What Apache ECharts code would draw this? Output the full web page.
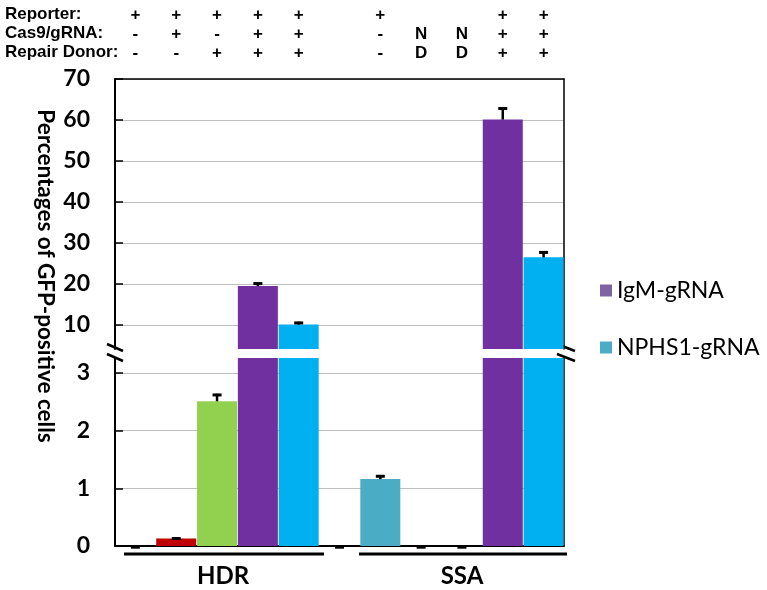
<!DOCTYPE html>
<html><head><meta charset="utf-8">
<script src="https://cdn.jsdelivr.net/npm/echarts@6/dist/echarts.min.js"></script>
<style>html,body{margin:0;padding:0;background:#fff}#c{width:767px;height:590px}</style>
</head><body><div id="c"></div>
<script>
const categories = ['HDR-a','HDR-b','HDR-c','HDR-d','HDR-e','SSA-z','SSA-a','SSA-b','SSA-c','SSA-d','SSA-e'];
const values = [0, 0.13, 2.51, 19.5, 10.1, 0, 1.16, 0, 0, 60.1, 26.5];
const errors = [0, 0.02, 0.13, 0.9, 0.7, 0, 0.07, 0, 0, 3.0, 1.5];
const barColors = ['#c00000','#c00000','#92d050','#7030a0','#00b0f0','#4bacc6','#4bacc6','#4bacc6','#4bacc6','#7030a0','#00b0f0'];
const seriesOf = ['ctrl','ctrl','ctrl','IgM-gRNA','NPHS1-gRNA','ctrl','ctrl','ctrl','ctrl','IgM-gRNA','NPHS1-gRNA'];
const legendNames = ['IgM-gRNA','NPHS1-gRNA'];
const legendColors = ['#8064a2','#4bacc6'];
const headerLabels = ['Reporter:','Cas9/gRNA:','Repair Donor:'];
const reporterRow = ['+','+','+','+','+','','+','','','+','+'];
const cas9Row = ['-','+','-','+','+','','-','N','N','+','+'];
const donorRow = ['-','-','+','+','+','','-','D','D','+','+'];
const headerRows = [reporterRow, cas9Row, donorRow];
const groupNames = ['HDR','SSA'];
const upperTicks = [10,20,30,40,50,60,70];
const lowerTicks = [0,1,2,3];
const upperRange = [4.15, 70];
const lowerRange = [0, 3.26];
const yTitle = 'Percentages of GFP-positive cells';

const chart = echarts.init(document.getElementById('c'));
const calibri = 'Lato, "Open Sans", sans-serif';
const arial = '"Liberation Sans", Arial, sans-serif';

const GL = 115, GW = 449;
const grids = [
  {left: GL, width: GW, top: 79, height: 270},
  {left: GL, width: GW, top: 358, height: 188}
];

function yAx(grid, range, ticks, pos) {
  const left = pos === 'left';
  return {
    type: 'value', gridIndex: grid, position: pos, min: range[0], max: range[1],
    axisLine: {show: true, lineStyle: {color: '#000', width: left ? 2 : 1.5}},
    axisTick: {show: left, inside: true, length: 8, lineStyle: {color: '#000', width: 1.5}, customValues: ticks},
    axisLabel: {show: left, margin: 25, color: '#000', fontFamily: calibri, fontWeight: 'bold', fontSize: 23, customValues: ticks},
    splitLine: {show: left, lineStyle: {color: '#bfbfbf', width: 1}}
  };
}

const xAxes = [
  {type: 'category', gridIndex: 0, data: categories, position: 'top',
   axisLine: {show: true, lineStyle: {color: '#000', width: 1.5}}, axisTick: {show: false}, axisLabel: {show: false}},
  {type: 'category', gridIndex: 1, data: categories, position: 'bottom',
   axisLine: {show: true, lineStyle: {color: '#000', width: 2}}, axisTick: {show: false}, axisLabel: {show: false}}
];
const headerOffsets = [55, 36, 17];
headerRows.forEach((row, r) => {
  xAxes.push({type: 'category', gridIndex: 0, data: categories, position: 'top', offset: headerOffsets[r],
    axisLine: {show: false}, axisTick: {show: false},
    axisLabel: {interval: 0, margin: 0, color: '#000', fontFamily: arial, fontWeight: 'bold', fontSize: 17,
      formatter: (v, i) => row[i]}});
});

const series = [];
['ctrl','IgM-gRNA','NPHS1-gRNA'].forEach(name => {
  [0, 1].forEach(g => {
    const range = g === 0 ? upperRange : lowerRange;
    series.push({
      name: name, type: 'bar', xAxisIndex: g, yAxisIndex: g * 2,
      barGap: '-100%', barCategoryGap: '2%',
      data: values.map((v, i) => (seriesOf[i] === name && (g === 1 || v > range[0]))
        ? {value: v, itemStyle: {color: barColors[i]}} : '-'),
      itemStyle: {color: name === 'IgM-gRNA' ? '#7030a0' : name === 'NPHS1-gRNA' ? '#00b0f0' : '#c00000'}
    });
  });
});

function renderErr(params, api) {
  const x = api.value(0), v = api.value(1), e = api.value(2);
  const base = api.coord([x, v]);
  const top = api.coord([x, v + e]);
  const hw = 4.5;
  return {type: 'group', children: [
    {type: 'line', shape: {x1: base[0], y1: base[1], x2: top[0], y2: top[1]}, style: {stroke: '#000', lineWidth: 2.5}},
    {type: 'line', shape: {x1: top[0] - hw, y1: top[1] + 1.2, x2: top[0] + hw, y2: top[1] + 1.2}, style: {stroke: '#000', lineWidth: 3}}
  ]};
}
[0, 1].forEach(g => {
  const data = [];
  values.forEach((v, i) => {
    const inUpper = v > lowerRange[1];
    if ((g === 0) === inUpper) data.push([i, v, errors[i]]);
  });
  series.push({type: 'custom', xAxisIndex: g, yAxisIndex: g * 2, renderItem: renderErr, data: data, z: 5,
    encode: {x: 0, y: 1}, silent: true});
});

const graphic = [];
headerLabels.forEach((t, r) => {
  graphic.push({type: 'text', left: 5, top: 6 + r * 19,
    style: {text: t, font: 'bold 17px "Liberation Sans", Arial, sans-serif', fill: '#000'}});
});
graphic.push({type: 'text', x: 45, y: 276, rotation: -Math.PI / 2,
  style: {text: yTitle, font: 'bold 22.5px Lato, sans-serif', fill: '#000', align: 'center', verticalAlign: 'middle'}});
// group brackets
const brackets = [[124, 324], [359, 567]];
brackets.forEach((b, k) => {
  graphic.push({type: 'line', shape: {x1: b[0], y1: 554, x2: b[1], y2: 554}, style: {stroke: '#000', lineWidth: 3}});
  graphic.push({type: 'text', x: (b[0] + b[1]) / 2 - 1, y: 576,
    style: {text: groupNames[k], font: 'bold 24px Lato, sans-serif', fill: '#000', align: 'center', verticalAlign: 'middle'}});
});
// axis break marks
[[107, 123], [557, 575]].forEach(xs => {
  graphic.push({type: 'line', shape: {x1: xs[0], y1: 344, x2: xs[1], y2: 351}, style: {stroke: '#000', lineWidth: 2.5}});
  graphic.push({type: 'line', shape: {x1: xs[0], y1: 354, x2: xs[1], y2: 361}, style: {stroke: '#000', lineWidth: 2.5}});
});

chart.setOption({
  animation: false,
  backgroundColor: '#fff',
  grid: grids,
  xAxis: xAxes,
  yAxis: [yAx(0, upperRange, upperTicks, 'left'), yAx(0, upperRange, upperTicks, 'right'),
          yAx(1, lowerRange, lowerTicks, 'left'), yAx(1, lowerRange, lowerTicks, 'right')],
  legend: {
    orient: 'vertical', left: 595, top: 274, itemWidth: 12, itemHeight: 12, itemGap: 34, icon: 'rect',
    textStyle: {fontFamily: calibri, fontSize: 23, color: '#000'},
    data: legendNames.map((n, i) => ({name: n, itemStyle: {color: legendColors[i]}}))
  },
  series: series,
  graphic: graphic
});
</script></body></html>
